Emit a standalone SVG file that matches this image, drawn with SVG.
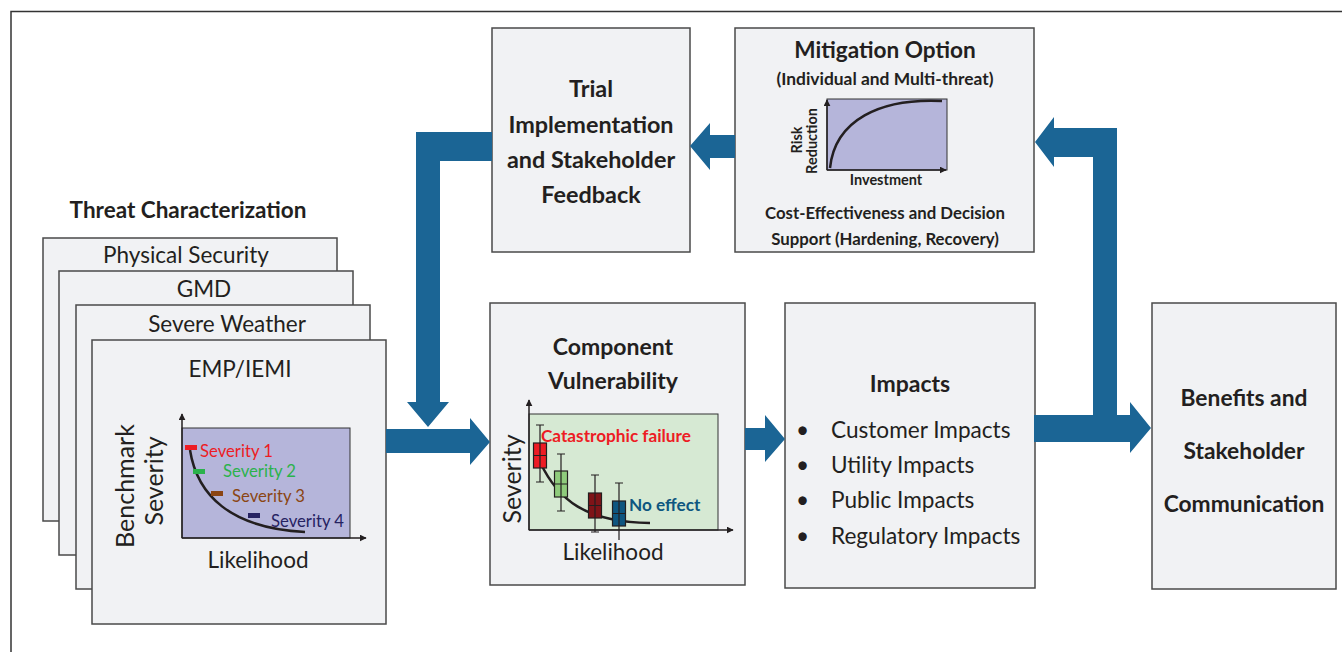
<svg xmlns="http://www.w3.org/2000/svg" width="1342" height="652" viewBox="0 0 1342 652">
<style>
.box{fill:#f1f2f4;stroke:#4a4a4a;stroke-width:1.5}
.t{font-family:Lato,"Open Sans",sans-serif;fill:#231f20}
.b{font-weight:bold}
.arr{fill:#1b6595}
.ax{stroke:#231f20;stroke-width:1.5;fill:none}
</style>
<defs>
<marker id="ah" viewBox="0 0 10 10" refX="9" refY="5" markerWidth="7" markerHeight="7" markerUnits="userSpaceOnUse" orient="auto"><path d="M0,0L10,5L0,10z" fill="#231f20"/></marker>
</defs>
<rect width="1342" height="652" fill="#fff"/>
<path d="M11,652V11.5H1342" fill="none" stroke="#333" stroke-width="1.5"/>

<g id="threat">
<text class="t b" x="188" y="218" font-size="22.5" text-anchor="middle">Threat Characterization</text>
<rect class="box" x="43" y="238" width="294" height="283"/>
<text class="t" x="186" y="263" font-size="22.5" text-anchor="middle">Physical Security</text>
<rect class="box" x="59" y="271" width="294" height="284"/>
<text class="t" x="204" y="297" font-size="22.5" text-anchor="middle">GMD</text>
<rect class="box" x="76" y="305" width="294" height="284"/>
<text class="t" x="227" y="332" font-size="22.5" text-anchor="middle">Severe Weather</text>
<rect class="box" x="92" y="340" width="294" height="284"/>
<text class="t" x="240" y="377" font-size="22.5" text-anchor="middle">EMP/IEMI</text>
<rect x="182" y="428" width="168" height="110" fill="#b5b5da" stroke="#333" stroke-width="1"/>
<path class="ax" d="M182,538V414" marker-end="url(#ah)"/>
<path class="ax" d="M182,538H366" marker-end="url(#ah)"/>
<path d="M190,450C197,495 230,528 305,532" fill="none" stroke="#231f20" stroke-width="2.5"/>
<rect x="185" y="445" width="12" height="5" fill="#ed1c24"/>
<rect x="193" y="469" width="12" height="5" fill="#2bb24c"/>
<rect x="211" y="491" width="12" height="5" fill="#8b4513"/>
<rect x="248" y="513" width="12" height="5" fill="#262262"/>
<text class="t" x="200" y="457" font-size="16.7" style="fill:#ed1c24">Severity 1</text>
<text class="t" x="223" y="477" font-size="16.7" style="fill:#2bb24c">Severity 2</text>
<text class="t" x="232" y="502" font-size="16.7" style="fill:#8b4513">Severity 3</text>
<text class="t" x="271" y="527" font-size="16.7" style="fill:#262262">Severity 4</text>
<text class="t" font-size="25" text-anchor="middle" transform="translate(134,486) rotate(-90)">Benchmark</text>
<text class="t" font-size="25" text-anchor="middle" transform="translate(163,481) rotate(-90)">Severity</text>
<text class="t" x="258" y="568" font-size="22.5" text-anchor="middle">Likelihood</text>
</g>

<g id="trial">
<rect class="box" x="492" y="28" width="198" height="224"/>
<text class="t b" x="591" y="97" font-size="23.4" text-anchor="middle">Trial</text>
<text class="t b" x="591" y="133" font-size="23.4" text-anchor="middle">Implementation</text>
<text class="t b" x="591" y="168" font-size="23.4" text-anchor="middle">and Stakeholder</text>
<text class="t b" x="591" y="203" font-size="23.4" text-anchor="middle">Feedback</text>
</g>

<g id="mitigation">
<rect class="box" x="735" y="28" width="299" height="224"/>
<text class="t b" x="885" y="58" font-size="22.6" text-anchor="middle">Mitigation Option</text>
<text class="t b" x="885" y="85" font-size="17.4" text-anchor="middle">(Individual and Multi-threat)</text>
<rect x="827" y="99" width="120" height="71" fill="#b5b5da" stroke="#333" stroke-width="1"/>
<path class="ax" d="M827,170V100" marker-end="url(#ah)"/>
<path class="ax" d="M827,170H946" marker-end="url(#ah)"/>
<path d="M830,168C835,120 880,98 942,101" fill="none" stroke="#231f20" stroke-width="2.5"/>
<text class="t b" font-size="14.5" text-anchor="middle" transform="translate(802,140) rotate(-90)">Risk</text>
<text class="t b" font-size="14.5" text-anchor="middle" transform="translate(817,141) rotate(-90)">Reduction</text>
<text class="t b" x="886" y="185" font-size="14.5" text-anchor="middle">Investment</text>
<text class="t b" x="885" y="219" font-size="16.8" text-anchor="middle">Cost-Effectiveness and Decision</text>
<text class="t b" x="885" y="245" font-size="16.8" text-anchor="middle">Support (Hardening, Recovery)</text>
</g>

<g id="component">
<rect class="box" x="490" y="303" width="255" height="282"/>
<text class="t b" x="613" y="355" font-size="23" text-anchor="middle">Component</text>
<text class="t b" x="613" y="389" font-size="23" text-anchor="middle">Vulnerability</text>
<rect x="529" y="414" width="189" height="116" fill="#d6e9d3" stroke="#333" stroke-width="1"/>
<path class="ax" d="M529,530V400" marker-end="url(#ah)"/>
<path class="ax" d="M529,530H733" marker-end="url(#ah)"/>
<path d="M540,462C558,500 585,522 650,523" fill="none" stroke="#231f20" stroke-width="2.5"/>
<g stroke="#231f20" stroke-width="1.2">
<path d="M540,425V482M536,425H544M536,482H544"/>
<rect x="533.5" y="443" width="13" height="25" fill="#ed1c24"/>
<path d="M540,443V468M533.5,455.5H546.5"/>
<path d="M561,454V511M557,454H565M557,511H565"/>
<rect x="554.5" y="471" width="13" height="26" fill="#8fcb7c"/>
<path d="M561,471V497M554.5,484H567.5"/>
<path d="M595,475V532M591,475H599M591,532H599"/>
<rect x="588.5" y="493" width="13" height="25" fill="#7f1418"/>
<path d="M595,493V518M588.5,505.5H601.5"/>
<path d="M619,483V540M615,483H623"/>
<rect x="612.5" y="501" width="13" height="25" fill="#0e5680"/>
<path d="M619,501V526M612.5,513.5H625.5"/>
</g>
<text class="t b" x="541" y="442" font-size="17.2" style="fill:#ed1c24">Catastrophic failure</text>
<text class="t b" x="629" y="511" font-size="17.2" style="fill:#0e5680">No effect</text>
<text class="t" font-size="25" text-anchor="middle" transform="translate(521,479) rotate(-90)">Severity</text>
<text class="t" x="613" y="560" font-size="22.5" text-anchor="middle">Likelihood</text>
</g>

<g id="impacts">
<rect class="box" x="785" y="303" width="250" height="285"/>
<text class="t b" x="910" y="392" font-size="23" text-anchor="middle">Impacts</text>
<g class="t" font-size="22.6">
<text x="796" y="438">•</text><text x="831" y="438">Customer Impacts</text>
<text x="796" y="473">•</text><text x="831" y="473">Utility Impacts</text>
<text x="796" y="508">•</text><text x="831" y="508">Public Impacts</text>
<text x="796" y="544">•</text><text x="831" y="544">Regulatory Impacts</text>
</g>
</g>

<g id="benefits">
<rect class="box" x="1152" y="303" width="184" height="286"/>
<text class="t b" x="1244" y="406" font-size="22.8" text-anchor="middle">Benefits and</text>
<text class="t b" x="1244" y="459" font-size="22.8" text-anchor="middle">Stakeholder</text>
<text class="t b" x="1244" y="512" font-size="22.8" text-anchor="middle">Communication</text>
</g>

<g id="connectors">
<path class="arr" d="M386,429H470V418L490,442L470,465V453H386Z"/>
<path class="arr" d="M492,132H416V402H407L428,427L449,402H440V161H492Z"/>
<path class="arr" d="M735,135H710V123L690,146L710,170V158H735Z"/>
<path class="arr" d="M745,428H765V415L785,439L765,462V450H745Z"/>
<path class="arr" d="M1034,415H1093V157H1054V167L1035,142L1054,117V128H1117V415H1130V402L1151,428L1130,453V442H1034Z"/>
</g>
</svg>
